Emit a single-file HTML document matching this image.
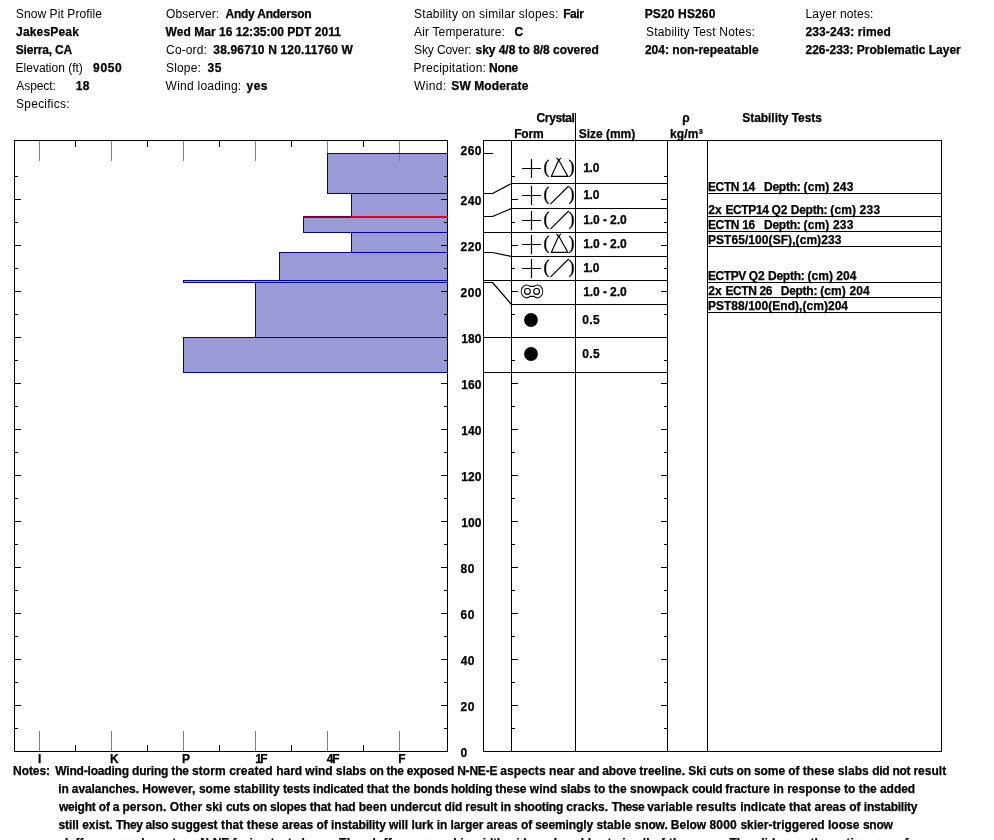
<!DOCTYPE html>
<html lang="en"><head><meta charset="utf-8"><title>Snow Pit Profile</title>
<style>
html,body{margin:0;padding:0;background:#fff;}
body{width:994px;height:840px;overflow:hidden;position:relative;}
svg{position:absolute;left:0;top:0;display:block;}
text{font-family:"Liberation Sans",Arial,Helvetica,sans-serif;font-size:12px;fill:#000;white-space:pre;}
.r{font-weight:400;}
.b{font-weight:700;stroke:#000;stroke-width:0.25px;}
.sym{font-family:"Liberation Serif","Times New Roman",serif;font-size:18px;font-weight:400;stroke:#000;stroke-width:0.3px;}
</style></head><body>
<svg width="994" height="840" viewBox="0 0 994 840">
<rect x="0" y="0" width="994" height="840" fill="#fff"/>
<g id="header">
<text class="r" x="15.80" y="18" letter-spacing="0.090">Snow Pit Profile</text>
<text class="b" x="16.05" y="36" letter-spacing="0.175">JakesPeak</text>
<text class="b" x="15.80" y="54" letter-spacing="-0.183">Sierra, CA</text>
<text class="r" x="15.60" y="72" letter-spacing="-0.012">Elevation (ft)</text>
<text class="b" x="93.10" y="72" letter-spacing="0.617">9050</text>
<text class="r" x="16.30" y="90" letter-spacing="-0.083">Aspect:</text>
<text class="b" x="75.75" y="90" letter-spacing="0.250">18</text>
<text class="r" x="16.10" y="108" letter-spacing="0.228">Specifics:</text>
<text class="r" x="166.10" y="18" letter-spacing="0.038">Observer:</text>
<text class="b" x="225.45" y="18" letter-spacing="-0.225">Andy Anderson</text>
<text class="b" x="165.60" y="36" letter-spacing="0.028">Wed Mar 16 12:35:00 PDT 2011</text>
<text class="r" x="166.10" y="54" letter-spacing="0.117">Co-ord:</text>
<text class="b" x="213.35" y="54" letter-spacing="0.160">38.96710 N 120.11760 W</text>
<text class="r" x="166.10" y="72" letter-spacing="0.140">Slope:</text>
<text class="b" x="207.55" y="72" letter-spacing="0.650">35</text>
<text class="r" x="165.60" y="90" letter-spacing="0.242">Wind loading:</text>
<text class="b" x="246.55" y="90" letter-spacing="0.475">yes</text>
<text class="r" x="414.10" y="18" letter-spacing="0.226">Stability on similar slopes:</text>
<text class="b" x="563.25" y="18" letter-spacing="-0.467">Fair</text>
<text class="r" x="414.00" y="36" letter-spacing="0.157">Air Temperature:</text>
<text class="b" x="514.50" y="36">C</text>
<text class="r" x="414.10" y="54" letter-spacing="-0.133">Sky Cover:</text>
<text class="b" x="475.50" y="54" letter-spacing="-0.036">sky 4/8 to 8/8 covered</text>
<text class="r" x="413.60" y="72" letter-spacing="0.227">Precipitation:</text>
<text class="b" x="489.05" y="72" letter-spacing="-0.283">None</text>
<text class="r" x="414.00" y="90" letter-spacing="0.325">Wind:</text>
<text class="b" x="451.30" y="90" letter-spacing="0.100">SW Moderate</text>
<text class="b" x="644.65" y="18" letter-spacing="0.150">PS20 HS260</text>
<text class="r" x="646.00" y="36" letter-spacing="0.190">Stability Test Notes:</text>
<text class="b" x="644.90" y="54" letter-spacing="0.017">204: non-repeatable</text>
<text class="r" x="805.50" y="18" letter-spacing="0.173">Layer notes:</text>
<text class="b" x="805.50" y="36" letter-spacing="0.096">233-243: rimed</text>
<text class="b" x="805.50" y="54" letter-spacing="-0.006">226-233: Problematic Layer</text>
</g>
<g id="hardness" shape-rendering="crispEdges">
<rect x="327.5" y="153.5" width="120" height="40" fill="#9a9ad6"/>
<rect x="351.5" y="193.5" width="96" height="23" fill="#9a9ad6"/>
<rect x="303.5" y="216.5" width="144" height="16" fill="#9a9ad6"/>
<rect x="351.5" y="232.5" width="96" height="20" fill="#9a9ad6"/>
<rect x="279.5" y="252.5" width="168" height="28" fill="#9a9ad6"/>
<rect x="183.5" y="280.5" width="264" height="2" fill="#9a9ad6"/>
<rect x="255.5" y="282.5" width="192" height="55" fill="#9a9ad6"/>
<rect x="183.5" y="337.5" width="264" height="35" fill="#9a9ad6"/>
<rect x="39" y="141" width="1" height="20" fill="#808080"/>
<rect x="39" y="731" width="1" height="20" fill="#808080"/>
<rect x="111" y="141" width="1" height="20" fill="#808080"/>
<rect x="111" y="731" width="1" height="20" fill="#808080"/>
<rect x="183" y="141" width="1" height="20" fill="#808080"/>
<rect x="183" y="731" width="1" height="20" fill="#808080"/>
<rect x="255" y="141" width="1" height="20" fill="#808080"/>
<rect x="255" y="731" width="1" height="20" fill="#808080"/>
<rect x="327" y="141" width="1" height="20" fill="#808080"/>
<rect x="327" y="731" width="1" height="20" fill="#808080"/>
<rect x="399" y="141" width="1" height="20" fill="#808080"/>
<rect x="399" y="731" width="1" height="20" fill="#808080"/>
<rect x="75" y="141" width="1" height="6" fill="#000"/>
<rect x="75" y="745" width="1" height="6" fill="#000"/>
<rect x="147" y="141" width="1" height="6" fill="#000"/>
<rect x="147" y="745" width="1" height="6" fill="#000"/>
<rect x="219" y="141" width="1" height="6" fill="#000"/>
<rect x="219" y="745" width="1" height="6" fill="#000"/>
<rect x="291" y="141" width="1" height="6" fill="#000"/>
<rect x="291" y="745" width="1" height="6" fill="#000"/>
<rect x="363" y="141" width="1" height="6" fill="#000"/>
<rect x="363" y="745" width="1" height="6" fill="#000"/>
<rect x="327.5" y="153.5" width="120" height="40" fill="none" stroke="#00009c" stroke-width="1"/>
<rect x="351.5" y="193.5" width="96" height="23" fill="none" stroke="#00009c" stroke-width="1"/>
<rect x="303.5" y="216.5" width="144" height="16" fill="none" stroke="#00009c" stroke-width="1"/>
<rect x="351.5" y="232.5" width="96" height="20" fill="none" stroke="#00009c" stroke-width="1"/>
<rect x="279.5" y="252.5" width="168" height="28" fill="none" stroke="#00009c" stroke-width="1"/>
<rect x="183.5" y="280.5" width="264" height="2" fill="none" stroke="#00009c" stroke-width="1"/>
<rect x="255.5" y="282.5" width="192" height="55" fill="none" stroke="#00009c" stroke-width="1"/>
<rect x="183.5" y="337.5" width="264" height="35" fill="none" stroke="#00009c" stroke-width="1"/>
<rect x="15" y="728" width="3" height="1" fill="#000"/>
<rect x="444" y="728" width="3" height="1" fill="#000"/>
<rect x="15" y="705" width="6" height="1" fill="#000"/>
<rect x="441" y="705" width="6" height="1" fill="#000"/>
<rect x="15" y="682" width="3" height="1" fill="#000"/>
<rect x="444" y="682" width="3" height="1" fill="#000"/>
<rect x="15" y="659" width="6" height="1" fill="#000"/>
<rect x="441" y="659" width="6" height="1" fill="#000"/>
<rect x="15" y="636" width="3" height="1" fill="#000"/>
<rect x="444" y="636" width="3" height="1" fill="#000"/>
<rect x="15" y="613" width="6" height="1" fill="#000"/>
<rect x="441" y="613" width="6" height="1" fill="#000"/>
<rect x="15" y="590" width="3" height="1" fill="#000"/>
<rect x="444" y="590" width="3" height="1" fill="#000"/>
<rect x="15" y="567" width="6" height="1" fill="#000"/>
<rect x="441" y="567" width="6" height="1" fill="#000"/>
<rect x="15" y="544" width="3" height="1" fill="#000"/>
<rect x="444" y="544" width="3" height="1" fill="#000"/>
<rect x="15" y="521" width="6" height="1" fill="#000"/>
<rect x="441" y="521" width="6" height="1" fill="#000"/>
<rect x="15" y="498" width="3" height="1" fill="#000"/>
<rect x="444" y="498" width="3" height="1" fill="#000"/>
<rect x="15" y="475" width="6" height="1" fill="#000"/>
<rect x="441" y="475" width="6" height="1" fill="#000"/>
<rect x="15" y="452" width="3" height="1" fill="#000"/>
<rect x="444" y="452" width="3" height="1" fill="#000"/>
<rect x="15" y="429" width="6" height="1" fill="#000"/>
<rect x="441" y="429" width="6" height="1" fill="#000"/>
<rect x="15" y="406" width="3" height="1" fill="#000"/>
<rect x="444" y="406" width="3" height="1" fill="#000"/>
<rect x="15" y="383" width="6" height="1" fill="#000"/>
<rect x="441" y="383" width="6" height="1" fill="#000"/>
<rect x="15" y="360" width="3" height="1" fill="#000"/>
<rect x="444" y="360" width="3" height="1" fill="#000"/>
<rect x="15" y="337" width="6" height="1" fill="#000"/>
<rect x="441" y="337" width="6" height="1" fill="#000"/>
<rect x="15" y="314" width="3" height="1" fill="#000"/>
<rect x="444" y="314" width="3" height="1" fill="#000"/>
<rect x="15" y="291" width="6" height="1" fill="#000"/>
<rect x="441" y="291" width="6" height="1" fill="#000"/>
<rect x="15" y="268" width="3" height="1" fill="#000"/>
<rect x="444" y="268" width="3" height="1" fill="#000"/>
<rect x="15" y="245" width="6" height="1" fill="#000"/>
<rect x="441" y="245" width="6" height="1" fill="#000"/>
<rect x="15" y="222" width="3" height="1" fill="#000"/>
<rect x="444" y="222" width="3" height="1" fill="#000"/>
<rect x="15" y="199" width="6" height="1" fill="#000"/>
<rect x="441" y="199" width="6" height="1" fill="#000"/>
<rect x="15" y="176" width="3" height="1" fill="#000"/>
<rect x="444" y="176" width="3" height="1" fill="#000"/>
<rect x="14" y="140" width="434" height="1" fill="#000"/>
<rect x="14" y="751" width="434" height="1" fill="#000"/>
<rect x="14" y="140" width="1" height="612" fill="#000"/>
<rect x="447" y="140" width="1" height="612" fill="#000"/>
<rect x="303" y="216" width="145" height="2" fill="#e8001c"/>
<rect x="303" y="216" width="48" height="2" fill="#880030"/>
</g>
<text class="b" x="38.05" y="763">I</text>
<text class="b" x="109.95" y="763">K</text>
<text class="b" x="181.95" y="763">P</text>
<text class="b" x="255.15" y="763" letter-spacing="-1.550">1F</text>
<text class="b" x="326.75" y="763" letter-spacing="-1.150">4F</text>
<text class="b" x="398.15" y="763">F</text>
<text class="b" x="460.50" y="756.7">0</text>
<text class="b" x="460.50" y="710.7" letter-spacing="0.600">20</text>
<text class="b" x="460.75" y="664.7" letter-spacing="0.350">40</text>
<text class="b" x="460.50" y="618.7" letter-spacing="0.600">60</text>
<text class="b" x="460.50" y="572.7" letter-spacing="0.600">80</text>
<text class="b" x="461.25" y="526.7" letter-spacing="0.075">100</text>
<text class="b" x="461.25" y="480.7" letter-spacing="0.075">120</text>
<text class="b" x="461.25" y="434.7" letter-spacing="0.075">140</text>
<text class="b" x="461.25" y="388.7" letter-spacing="0.075">160</text>
<text class="b" x="461.25" y="342.7" letter-spacing="0.075">180</text>
<text class="b" x="460.50" y="296.7" letter-spacing="0.500">200</text>
<text class="b" x="460.50" y="250.7" letter-spacing="0.500">220</text>
<text class="b" x="460.50" y="204.7" letter-spacing="0.500">240</text>
<text class="b" x="460.50" y="154.8" letter-spacing="0.500">260</text>
<g id="table" shape-rendering="crispEdges">
<rect x="483" y="140" width="459" height="1" fill="#000"/>
<rect x="483" y="751" width="459" height="1" fill="#000"/>
<rect x="483" y="140" width="1" height="612" fill="#000"/>
<rect x="941" y="140" width="1" height="612" fill="#000"/>
<rect x="511" y="140" width="1" height="612" fill="#000"/>
<rect x="575" y="113" width="1" height="639" fill="#000"/>
<rect x="667" y="140" width="1" height="612" fill="#000"/>
<rect x="707" y="140" width="1" height="612" fill="#000"/>
<rect x="484" y="153" width="9" height="1" fill="#000"/>
<rect x="511" y="183" width="157" height="1" fill="#000"/>
<rect x="511" y="208" width="157" height="1" fill="#000"/>
<rect x="511" y="232" width="157" height="1" fill="#000"/>
<rect x="511" y="256" width="157" height="1" fill="#000"/>
<rect x="511" y="280" width="157" height="1" fill="#000"/>
<rect x="511" y="304" width="157" height="1" fill="#000"/>
<rect x="511" y="337" width="157" height="1" fill="#000"/>
<rect x="511" y="372" width="157" height="1" fill="#000"/>
<rect x="483" y="232" width="29" height="1" fill="#000"/>
<rect x="483" y="280" width="29" height="1" fill="#000"/>
<rect x="483" y="337" width="29" height="1" fill="#000"/>
<rect x="483" y="372" width="29" height="1" fill="#000"/>
<rect x="484" y="193" width="9" height="1" fill="#000"/>
<rect x="484" y="216" width="9" height="1" fill="#000"/>
<rect x="484" y="252" width="9" height="1" fill="#000"/>
<rect x="484" y="282" width="9" height="1" fill="#000"/>
<rect x="512" y="728" width="3" height="1" fill="#000"/>
<rect x="664" y="728" width="3" height="1" fill="#000"/>
<rect x="512" y="705" width="6" height="1" fill="#000"/>
<rect x="661" y="705" width="6" height="1" fill="#000"/>
<rect x="512" y="682" width="3" height="1" fill="#000"/>
<rect x="664" y="682" width="3" height="1" fill="#000"/>
<rect x="512" y="659" width="6" height="1" fill="#000"/>
<rect x="661" y="659" width="6" height="1" fill="#000"/>
<rect x="512" y="636" width="3" height="1" fill="#000"/>
<rect x="664" y="636" width="3" height="1" fill="#000"/>
<rect x="512" y="613" width="6" height="1" fill="#000"/>
<rect x="661" y="613" width="6" height="1" fill="#000"/>
<rect x="512" y="590" width="3" height="1" fill="#000"/>
<rect x="664" y="590" width="3" height="1" fill="#000"/>
<rect x="512" y="567" width="6" height="1" fill="#000"/>
<rect x="661" y="567" width="6" height="1" fill="#000"/>
<rect x="512" y="544" width="3" height="1" fill="#000"/>
<rect x="664" y="544" width="3" height="1" fill="#000"/>
<rect x="512" y="521" width="6" height="1" fill="#000"/>
<rect x="661" y="521" width="6" height="1" fill="#000"/>
<rect x="512" y="498" width="3" height="1" fill="#000"/>
<rect x="664" y="498" width="3" height="1" fill="#000"/>
<rect x="512" y="475" width="6" height="1" fill="#000"/>
<rect x="661" y="475" width="6" height="1" fill="#000"/>
<rect x="512" y="452" width="3" height="1" fill="#000"/>
<rect x="664" y="452" width="3" height="1" fill="#000"/>
<rect x="512" y="429" width="6" height="1" fill="#000"/>
<rect x="661" y="429" width="6" height="1" fill="#000"/>
<rect x="512" y="406" width="3" height="1" fill="#000"/>
<rect x="664" y="406" width="3" height="1" fill="#000"/>
<rect x="512" y="383" width="6" height="1" fill="#000"/>
<rect x="661" y="383" width="6" height="1" fill="#000"/>
<rect x="512" y="360" width="3" height="1" fill="#000"/>
<rect x="664" y="360" width="3" height="1" fill="#000"/>
<rect x="512" y="337" width="6" height="1" fill="#000"/>
<rect x="661" y="337" width="6" height="1" fill="#000"/>
<rect x="512" y="314" width="3" height="1" fill="#000"/>
<rect x="664" y="314" width="3" height="1" fill="#000"/>
<rect x="512" y="291" width="6" height="1" fill="#000"/>
<rect x="661" y="291" width="6" height="1" fill="#000"/>
<rect x="512" y="268" width="3" height="1" fill="#000"/>
<rect x="664" y="268" width="3" height="1" fill="#000"/>
<rect x="512" y="245" width="6" height="1" fill="#000"/>
<rect x="661" y="245" width="6" height="1" fill="#000"/>
<rect x="512" y="222" width="3" height="1" fill="#000"/>
<rect x="664" y="222" width="3" height="1" fill="#000"/>
<rect x="512" y="199" width="6" height="1" fill="#000"/>
<rect x="661" y="199" width="6" height="1" fill="#000"/>
<rect x="512" y="176" width="3" height="1" fill="#000"/>
<rect x="664" y="176" width="3" height="1" fill="#000"/>
<rect x="707" y="193" width="235" height="1" fill="#000"/>
<rect x="707" y="216" width="235" height="1" fill="#000"/>
<rect x="707" y="231" width="235" height="1" fill="#000"/>
<rect x="707" y="246" width="235" height="1" fill="#000"/>
<rect x="707" y="282" width="235" height="1" fill="#000"/>
<rect x="707" y="297" width="235" height="1" fill="#000"/>
<rect x="707" y="312" width="235" height="1" fill="#000"/>
</g>
<g stroke="#000" stroke-width="1.25" fill="none">
<line x1="492.5" y1="193.5" x2="511.5" y2="183.5"/>
<line x1="492.5" y1="216.5" x2="511.5" y2="208.5"/>
<line x1="492.5" y1="252.5" x2="511.5" y2="256.5"/>
<line x1="492.5" y1="282.5" x2="511.5" y2="304.5"/>
</g>
<text class="b" x="536.60" y="122" letter-spacing="-0.392">Crystal</text>
<text class="b" x="514.15" y="138" letter-spacing="-0.133">Form</text>
<text class="b" x="578.70" y="138" letter-spacing="-0.013">Size (mm)</text>
<text class="b" x="682.15" y="122">ρ</text>
<text class="b" x="670.05" y="138" letter-spacing="0.150">kg/m³</text>
<text class="b" x="742.30" y="122" letter-spacing="-0.057">Stability Tests</text>
<path d="M522 168.5H541M531.5 159V178" stroke="#000" stroke-width="1.2" fill="none"/>
<text class="sym" x="543.4" y="173.4">(</text>
<text class="sym" x="568.4" y="173.4">)</text>
<path d="M558.7 160L567.9 176.4H551.3ZM556.4 157.8l3.3 3.3M561 157.8l-3.3 3.3" stroke="#000" stroke-width="1.15" fill="none" stroke-linejoin="miter"/>
<text class="b" x="583.15" y="172.2" letter-spacing="-0.200">1.0</text>
<path d="M522 195.5H541M531.5 186V205" stroke="#000" stroke-width="1.2" fill="none"/>
<text class="sym" x="543.4" y="200.4">(</text>
<text class="sym" x="568.4" y="200.4">)</text>
<path d="M550.4 204.2L568.7 186" stroke="#000" stroke-width="1.15" fill="none"/>
<text class="b" x="583.15" y="199.2" letter-spacing="-0.200">1.0</text>
<path d="M522 220.5H541M531.5 211V230" stroke="#000" stroke-width="1.2" fill="none"/>
<text class="sym" x="543.4" y="225.4">(</text>
<text class="sym" x="568.4" y="225.4">)</text>
<path d="M550.4 229.2L568.7 211" stroke="#000" stroke-width="1.15" fill="none"/>
<text class="b" x="583.15" y="224.2" letter-spacing="-0.069">1.0 - 2.0</text>
<path d="M522 244.5H541M531.5 235V254" stroke="#000" stroke-width="1.2" fill="none"/>
<text class="sym" x="543.4" y="249.4">(</text>
<text class="sym" x="568.4" y="249.4">)</text>
<path d="M558.7 236L567.9 252.4H551.3ZM556.4 233.8l3.3 3.3M561 233.8l-3.3 3.3" stroke="#000" stroke-width="1.15" fill="none" stroke-linejoin="miter"/>
<text class="b" x="583.15" y="248.2" letter-spacing="-0.069">1.0 - 2.0</text>
<path d="M522 268.5H541M531.5 259V278" stroke="#000" stroke-width="1.2" fill="none"/>
<text class="sym" x="543.4" y="273.4">(</text>
<text class="sym" x="568.4" y="273.4">)</text>
<path d="M550.4 277.2L568.7 259" stroke="#000" stroke-width="1.15" fill="none"/>
<text class="b" x="583.15" y="272.2" letter-spacing="-0.200">1.0</text>
<g stroke="#000" stroke-width="1.15" fill="none"><circle cx="527.4" cy="291.4" r="2.9"/><circle cx="536.6" cy="291.4" r="2.9"/><path d="M529.9 286.4A5.3 6.4 0 1 0 529.9 296.4H534.1A5.3 6.4 0 1 0 534.1 286.4Z" stroke-linejoin="round"/></g>
<text class="b" x="583.15" y="296.2" letter-spacing="-0.069">1.0 - 2.0</text>
<circle cx="531" cy="320" r="6.9" fill="#000"/>
<text class="b" x="582.30" y="324.2" letter-spacing="0.375">0.5</text>
<circle cx="531" cy="354" r="6.9" fill="#000"/>
<text class="b" x="582.30" y="358.2" letter-spacing="0.375">0.5</text>
<text class="b" x="707.95" y="191" letter-spacing="-0.360">ECTN </text><text class="b" x="742.15" y="191" letter-spacing="-0.292">14   </text><text class="b" x="764.05" y="191" letter-spacing="-0.268">Depth: </text><text class="b" x="803.50" y="191" letter-spacing="0.146">(cm) </text><text class="b" x="832.90" y="191" letter-spacing="0.250">243</text>
<text class="b" x="708.20" y="214" letter-spacing="0.188">2x </text><text class="b" x="725.45" y="214" letter-spacing="-0.377">ECTP14 </text><text class="b" x="771.50" y="214" letter-spacing="-0.031">Q2 </text><text class="b" x="790.75" y="214" letter-spacing="-0.254">Depth: </text><text class="b" x="830.30" y="214" letter-spacing="0.106">(cm) </text><text class="b" x="859.50" y="214" letter-spacing="0.350">233</text>
<text class="b" x="707.95" y="229" letter-spacing="-0.360">ECTN </text><text class="b" x="742.15" y="229" letter-spacing="-0.292">16   </text><text class="b" x="764.05" y="229" letter-spacing="-0.268">Depth: </text><text class="b" x="803.50" y="229" letter-spacing="0.146">(cm) </text><text class="b" x="832.90" y="229" letter-spacing="0.250">233</text>
<text class="b" x="707.95" y="244" letter-spacing="0.067">PST65/100(SF),(cm)233</text>
<text class="b" x="707.95" y="280" letter-spacing="-0.416">ECTPV </text><text class="b" x="748.80" y="280" letter-spacing="-0.031">Q2 </text><text class="b" x="768.05" y="280" letter-spacing="-0.268">Depth: </text><text class="b" x="807.50" y="280" letter-spacing="0.026">(cm) </text><text class="b" x="836.30" y="280" letter-spacing="0.100">204</text>
<text class="b" x="708.20" y="295" letter-spacing="0.188">2x </text><text class="b" x="725.45" y="295" letter-spacing="-0.390">ECTN </text><text class="b" x="759.50" y="295" letter-spacing="-0.422">26   </text><text class="b" x="780.75" y="295" letter-spacing="-0.268">Depth: </text><text class="b" x="820.20" y="295" letter-spacing="0.106">(cm) </text><text class="b" x="849.40" y="295" letter-spacing="0.100">204</text>
<text class="b" x="707.95" y="310" letter-spacing="0.033">PST88/100(End),(cm)204</text>
<text class="b" x="13.05" y="775" letter-spacing="-0.080">Notes:</text>
<text class="b" x="55.30" y="775" letter-spacing="-0.192">Wind-loading during the </text><text class="b" x="191.90" y="775" letter-spacing="0.118">storm created </text><text class="b" x="276.25" y="775" letter-spacing="-0.049">hard wind slabs </text><text class="b" x="369.50" y="775" letter-spacing="-0.290">on the </text><text class="b" x="406.80" y="775" letter-spacing="-0.209">exposed N-NE-E </text><text class="b" x="500.35" y="775" letter-spacing="0.091">aspects near </text><text class="b" x="578.25" y="775" letter-spacing="-0.159">and above </text><text class="b" x="639.35" y="775" letter-spacing="-0.040">treeline. Ski </text><text class="b" x="709.50" y="775" letter-spacing="-0.189">cuts on </text><text class="b" x="754.00" y="775" letter-spacing="-0.074">some of </text><text class="b" x="802.75" y="775" letter-spacing="0.062">these slabs </text><text class="b" x="872.20" y="775" letter-spacing="-0.260">did not </text><text class="b" x="913.45" y="775" letter-spacing="0.010">result</text>
<text class="b" x="58.15" y="793" letter-spacing="-0.093">in avalanches. </text><text class="b" x="142.15" y="793" letter-spacing="0.080">However, </text><text class="b" x="198.90" y="793" letter-spacing="0.052">some stability </text><text class="b" x="283.05" y="793" letter-spacing="-0.229">tests indicated </text><text class="b" x="366.75" y="793" letter-spacing="0.014">that the </text><text class="b" x="413.55" y="793" letter-spacing="-0.306">bonds holding </text><text class="b" x="495.25" y="793" letter-spacing="-0.018">these wind </text><text class="b" x="560.40" y="793" letter-spacing="-0.071">slabs to </text><text class="b" x="608.45" y="793" letter-spacing="0.066">the snowpack </text><text class="b" x="692.00" y="793" letter-spacing="-0.349">could </text><text class="b" x="725.25" y="793" letter-spacing="-0.010">fracture in </text><text class="b" x="787.15" y="793" letter-spacing="0.028">response to </text><text class="b" x="858.85" y="793" letter-spacing="-0.050">the added</text>
<text class="b" x="58.90" y="811" letter-spacing="-0.204">weight of a </text><text class="b" x="122.45" y="811" letter-spacing="0.083">person. </text><text class="b" x="169.80" y="811" letter-spacing="0.074">Other ski </text><text class="b" x="225.90" y="811" letter-spacing="-0.241">cuts on slopes </text><text class="b" x="309.65" y="811" letter-spacing="-0.100">that had </text><text class="b" x="358.75" y="811" letter-spacing="0.011">been </text><text class="b" x="390.15" y="811" letter-spacing="-0.036">undercut </text><text class="b" x="444.50" y="811" letter-spacing="-0.118">did result </text><text class="b" x="500.55" y="811" letter-spacing="-0.196">in shooting </text><text class="b" x="566.20" y="811" letter-spacing="0.104">cracks. </text><text class="b" x="611.75" y="811" letter-spacing="-0.428">These </text><text class="b" x="647.20" y="811" letter-spacing="0.005">variable </text><text class="b" x="695.95" y="811" letter-spacing="0.189">results </text><text class="b" x="740.15" y="811" letter-spacing="0.013">indicate </text><text class="b" x="788.95" y="811" letter-spacing="0.051">that </text><text class="b" x="814.55" y="811" letter-spacing="-0.007">areas of </text><text class="b" x="863.85" y="811" letter-spacing="-0.245">instability</text>
<text class="b" x="58.40" y="829" letter-spacing="-0.037">still exist. </text><text class="b" x="115.95" y="829" letter-spacing="-0.334">They also </text><text class="b" x="171.30" y="829" letter-spacing="0.051">suggest </text><text class="b" x="221.05" y="829" letter-spacing="0.089">that these </text><text class="b" x="282.05" y="829" letter-spacing="-0.040">areas of </text><text class="b" x="331.05" y="829" letter-spacing="-0.124">instability </text><text class="b" x="388.90" y="829" letter-spacing="-0.027">will lurk </text><text class="b" x="436.65" y="829" letter-spacing="-0.071">in larger areas </text><text class="b" x="520.90" y="829" letter-spacing="-0.091">of seemingly </text><text class="b" x="596.40" y="829" letter-spacing="0.026">stable </text><text class="b" x="634.60" y="829" letter-spacing="-0.107">snow. </text><text class="b" x="670.85" y="829" letter-spacing="-0.004">Below </text><text class="b" x="709.50" y="829" letter-spacing="0.174">8000 </text><text class="b" x="740.40" y="829" letter-spacing="0.011">skier-triggered </text><text class="b" x="827.95" y="829" letter-spacing="0.044">loose </text><text class="b" x="862.90" y="829" letter-spacing="-0.217">snow</text>
<text class="b" x="58.40" y="847" letter-spacing="-0.038">sluffs occurred on steep </text><text class="b" x="200.15" y="847" letter-spacing="-0.072">N-NE facing test slopes. </text><text class="b" x="339.05" y="847" letter-spacing="0.445">The </text><text class="b" x="365.50" y="847" letter-spacing="0.211">sluffs averaged </text><text class="b" x="460.25" y="847" letter-spacing="-0.204">in width wide and could entrain </text><text class="b" x="635.75" y="847" letter-spacing="0.243">all of the snow. </text><text class="b" x="729.45" y="847" letter-spacing="0.077">The slides on the entire area of</text>
</svg></body></html>
